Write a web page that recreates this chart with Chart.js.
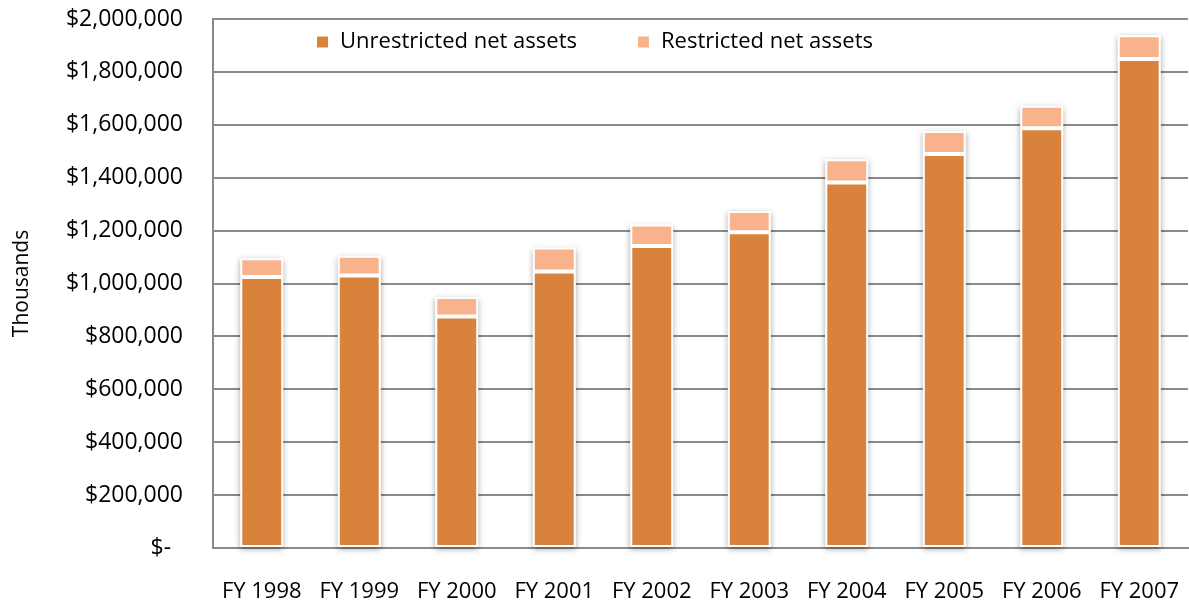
<!DOCTYPE html>
<html>
<head>
<meta charset="utf-8">
<script src="https://cdn.jsdelivr.net/npm/chart.js@4.4.1/dist/chart.umd.min.js"></script>
<style>
  html, body { margin: 0; padding: 0; background: #ffffff; }
</style>
</head>
<body>
<canvas id="myChart" width="1189" height="605"></canvas>
<script>
// data (thousands of dollars)
const years = ["FY 1998", "FY 1999", "FY 2000", "FY 2001", "FY 2002", "FY 2003", "FY 2004", "FY 2005", "FY 2006", "FY 2007"];
const unrestricted = [1025000, 1030000, 875000, 1045000, 1142000, 1194000, 1382000, 1490000, 1587000, 1849000];
const restricted = [70000, 75000, 74000, 91000, 81000, 80000, 88000, 87000, 85000, 90000];
const yTickLabels = ["$-  ", "$200,000", "$400,000", "$600,000", "$800,000", "$1,000,000",
  "$1,200,000", "$1,400,000", "$1,600,000", "$1,800,000", "$2,000,000"];

const textColor = "#000000";
const gridColor = "#8a8a8a";

Chart.defaults.font.family = "'Open Sans', sans-serif";
Chart.defaults.color = textColor;

// soft shadow behind each stacked column
const barShadow = {
  id: "barShadow",
  beforeDatasetsDraw(chart) {
    const ctx = chart.ctx;
    const metas = chart.getSortedVisibleDatasetMetas();
    ctx.save();
    ctx.shadowColor = "rgba(0,0,0,0.35)";
    ctx.shadowBlur = 6;
    ctx.shadowOffsetY = 2;
    ctx.fillStyle = "#ffffff";
    years.forEach((_, i) => {
      let top = Infinity, base = 0, x = 0, w = 0;
      metas.forEach((m) => {
        const p = m.data[i].getProps(["x", "y", "base", "width"], true);
        top = Math.min(top, p.y, p.base);
        base = Math.max(base, p.base, p.y);
        x = p.x;
        w = p.width;
      });
      ctx.fillRect(x - w / 2, top, w, base - top);
    });
    ctx.restore();
  },
};

// legend sits inside the plot, centred on the canvas
const legendInPlot = {
  id: "legendInPlot",
  beforeLayout(chart) {
    if (chart.legend) chart.legend.position = "chartArea";
  },
  afterLayout(chart) {
    const lg = chart.legend;
    if (!lg) return;
    const pad = lg.options.labels.padding;
    lg.left = 0;
    lg.right = chart.width;
    lg.width = chart.width;
    lg.top = 42 - pad - 11;
    lg.height = 140;
    lg.bottom = lg.top + lg.height;
  },
};

const ctx = document.getElementById("myChart").getContext("2d");
new Chart(ctx, {
  type: "bar",
  data: {
    labels: years,
    datasets: [
      {
        label: "Unrestricted net assets",
        data: unrestricted,
        backgroundColor: "#D9823B",
        borderColor: "#ffffff",
        borderWidth: 2,
        borderSkipped: false,
      },
      {
        label: "Restricted net assets",
        data: restricted,
        backgroundColor: "#F8B38D",
        borderColor: "#ffffff",
        borderWidth: 2,
        borderSkipped: false,
      },
    ],
  },
  options: {
    responsive: false,
    animation: false,
    layout: { padding: { top: 19, right: 1, bottom: 0, left: 0 } },
    datasets: {
      bar: { barPercentage: 0.44, categoryPercentage: 1 },
    },
    scales: {
      x: {
        stacked: true,
        grid: { display: false, drawTicks: false },
        border: { display: true, color: gridColor, width: 2 },
        ticks: { padding: 31, maxRotation: 0, autoSkip: false, font: { size: 22 } },
        afterFit(scale) {
          scale.height = 57;
          scale.paddingLeft = 0;
          scale.paddingRight = 0;
        },
      },
      y: {
        stacked: true,
        min: 0,
        max: 2000000,
        ticks: {
          stepSize: 200000,
          padding: 30,
          font: { size: 23 },
          callback: (value, index) => yTickLabels[index],
        },
        grid: { color: gridColor, lineWidth: 2, drawTicks: false },
        border: { display: true, color: gridColor, width: 2 },
        title: {
          display: true,
          text: "Thousands",
          font: { size: 21 },
          padding: { top: 9, bottom: 0 },
        },
        afterFit(scale) {
          scale.width = 213;
          scale.paddingTop = 0;
          scale.paddingBottom = 0;
        },
      },
    },
    plugins: {
      legend: {
        position: "top",
        labels: {
          boxWidth: 13,
          boxHeight: 13,
          padding: 60,
          font: { size: 22 },
          color: textColor,
        },
      },
      tooltip: { enabled: false },
    },
  },
  plugins: [barShadow, legendInPlot],
});
</script>
</body>
</html>
